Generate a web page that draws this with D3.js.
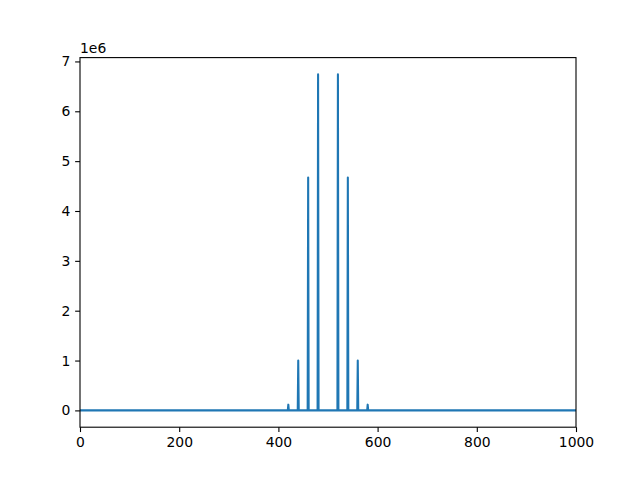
<!DOCTYPE html>
<html><head><meta charset="utf-8">
<script src="https://cdn.jsdelivr.net/npm/d3@7"></script>
<style>body{margin:0;background:#fff}svg{display:block}text{font-family:"DejaVu Sans",sans-serif}</style>
</head><body><svg id="c" width="640" height="480"></svg>
<script>
const peakX = [420, 440, 460, 480, 520, 540, 560, 580];
const peakY = [0.115e6, 1.0e6, 4.67e6, 6.74e6, 6.74e6, 4.67e6, 1.0e6, 0.115e6];
const xStart = 0, xEnd = 1000;
const xTicks = [0, 200, 400, 600, 800, 1000];
const yTicks = [0, 1, 2, 3, 4, 5, 6, 7];

const pts = [[xStart, 0]];
peakX.forEach((x, i) => { pts.push([x - 1, 0], [x, peakY[i]], [x + 1, 0]); });
pts.push([xEnd, 0]);

const L = 80, R = 576, T = 57.6, B = 427.2;
const svg = d3.select("#c");
const ymax = d3.max(peakY), ymin = 0, span = ymax - ymin;
const x = d3.scaleLinear().domain([xStart, xEnd]).range([L, R]);
const y = d3.scaleLinear().domain([ymin - 0.05 * span, ymax + 0.05 * span]).range([B, T]);

svg.append("defs").append("clipPath").attr("id", "clip")
  .append("rect").attr("x", L).attr("y", T).attr("width", R - L).attr("height", B - T);

svg.append("path").datum(pts)
  .attr("clip-path", "url(#clip)")
  .attr("fill", "none").attr("stroke", "#1f77b4").attr("stroke-width", 2.08)
  .attr("stroke-linejoin", "round").attr("stroke-linecap", "butt")
  .attr("d", d3.line().x(d => x(d[0])).y(d => y(d[1])));

const xa = svg.append("g").attr("transform", `translate(0,${B})`)
  .call(d3.axisBottom(x).tickValues(xTicks).tickSize(4.86).tickPadding(4.86).tickFormat(d3.format("d")));
const ya = svg.append("g").attr("transform", `translate(${L},0)`)
  .call(d3.axisLeft(y).tickValues(yTicks.map(v => v * 1e6)).tickSize(4.86).tickPadding(4.86).tickFormat(d => d / 1e6));
[xa, ya].forEach(a => {
  a.select(".domain").remove();
  a.selectAll("line").attr("stroke", "#000").attr("stroke-width", 1.1);
  a.selectAll("text").attr("font-size", "13.9px").attr("fill", "#000").attr("font-family", "DejaVu Sans");
});

svg.append("rect").attr("x", L).attr("y", T).attr("width", R - L).attr("height", B - T)
  .attr("fill", "none").attr("stroke", "#000").attr("stroke-width", 1.1);

svg.append("text").attr("x", L).attr("y", T - 5).attr("font-size", "13.9px").text("1e6");
</script></body></html>
